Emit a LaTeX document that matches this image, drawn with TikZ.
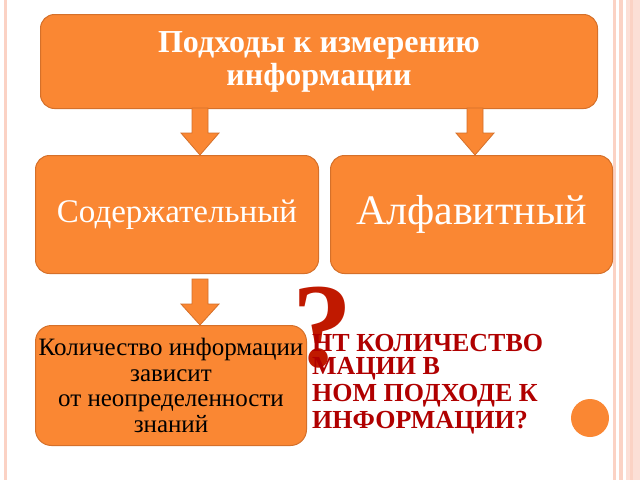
\documentclass[tikz,border=0pt]{standalone}
\usepackage{fontspec}
\setmainfont{Liberation Serif}
\definecolor{org}{HTML}{FA8733}
\definecolor{orgb}{HTML}{D5702A}
\definecolor{dred}{HTML}{B00000}
\definecolor{pnk}{HTML}{FBD2C4}
\tikzset{x=1pt,y=-1pt,
 box/.style={draw=orgb,fill=org,line width=1pt,rounded corners=14pt,anchor=north west,inner sep=0pt,align=center},
 darr/.style={draw=orgb,fill=org,line width=0.8pt},
 qtxt/.style={anchor=west,font=\bfseries\fontsize{26}{28}\selectfont,text=dred,inner sep=0pt}}
\begin{document}
\begin{tikzpicture}
\useasboundingbox (0,0) rectangle (640,480);
\fill[white] (0,0) rectangle (640,480);
\fill[pnk] (4,0) rectangle (7,480);
\fill[pnk] (613,0) rectangle (616,480);
\fill[pnk] (619,0) rectangle (623,480);
\fill[pnk!70] (626,0) rectangle (640,480);
\fill[pnk] (630,0) rectangle (633,480);
% question mark and text
\node[font=\bfseries\fontsize{120}{120}\selectfont,text=dred!80!orange,anchor=center,inner sep=0pt] (q) at (322,328) {?};
\node[qtxt] (t1) at (312,343) {НТ КОЛИЧЕСТВО};
\node[qtxt] (t2) at (312,369) {МАЦИИ В};
\node[qtxt] (t3) at (312,396) {НОМ ПОДХОДЕ К};
\node[qtxt] (t4) at (312,423) {ИНФОРМАЦИИ?};
\fill[org] (590,418) circle (19) coordinate (dot);
% boxes
\node[box,minimum width=557,minimum height=94,text=white,font=\bfseries\fontsize{32}{33}\selectfont] (top) at (40,14) {Подходы к измерению\\информации};
\node[box,minimum width=283,minimum height=118,text=white,font=\fontsize{33}{36}\selectfont] (l) at (35,155) {Содержательный};
\node[box,minimum width=282,minimum height=118,text=white,font=\fontsize{42}{46}\selectfont] (r) at (330,155) {Алфавитный};
\node[box,minimum width=271,minimum height=120,text=black,font=\fontsize{25}{25.5}\selectfont,rounded corners=16pt] (b) at (35,325) {Количество информации\\зависит\\ от неопределенности\\знаний};
% arrows
\foreach \xx/\ya/\yb in {200/108/155, 475/108/155, 200/279/325}{
 \draw[darr] (\xx-8,\ya) -- (\xx+8,\ya) -- (\xx+8,\ya+25) -- (\xx+19,\ya+25) -- (\xx,\yb) -- (\xx-19,\ya+25) -- (\xx-8,\ya+25) -- cycle;
}
\end{tikzpicture}
\end{document}
